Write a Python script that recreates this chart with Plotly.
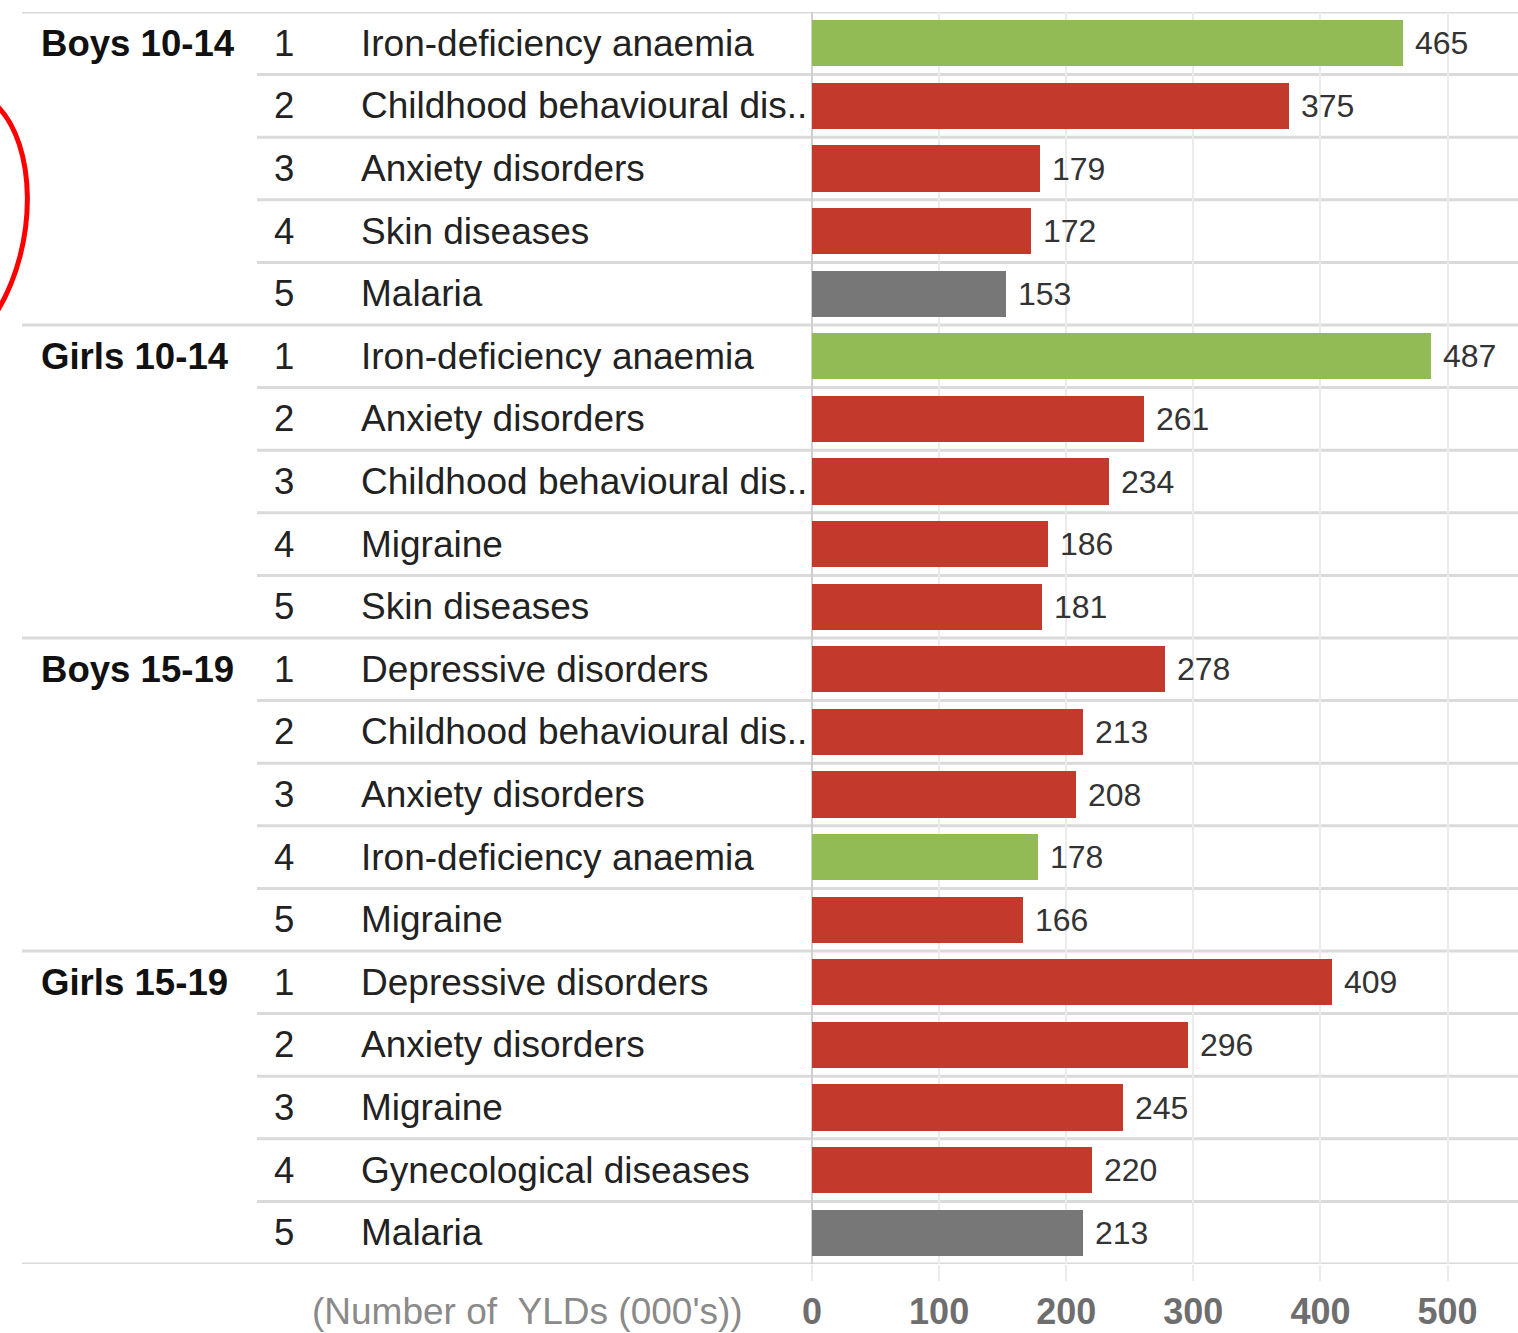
import plotly.graph_objects as go

# ---------------- data ----------------
groups = ["Boys 10-14", "Girls 10-14", "Boys 15-19", "Girls 15-19"]
ranks = [1, 2, 3, 4, 5]
causes_boys_10_14 = ["Iron-deficiency anaemia", "Childhood behavioural dis..", "Anxiety disorders", "Skin diseases", "Malaria"]
values_boys_10_14 = [465, 375, 179, 172, 153]
causes_girls_10_14 = ["Iron-deficiency anaemia", "Anxiety disorders", "Childhood behavioural dis..", "Migraine", "Skin diseases"]
values_girls_10_14 = [487, 261, 234, 186, 181]
causes_boys_15_19 = ["Depressive disorders", "Childhood behavioural dis..", "Anxiety disorders", "Iron-deficiency anaemia", "Migraine"]
values_boys_15_19 = [278, 213, 208, 178, 166]
causes_girls_15_19 = ["Depressive disorders", "Anxiety disorders", "Migraine", "Gynecological diseases", "Malaria"]
values_girls_15_19 = [409, 296, 245, 220, 213]
x_ticks = [0, 100, 200, 300, 400, 500]
axis_label = "(Number of\u00a0\u00a0YLDs (000's))"

cause_group = {  # colour category per cause
    "Iron-deficiency anaemia": "nutritional",
    "Malaria": "communicable",
}
colors = {"nutritional": "#92BB55", "communicable": "#777777", "ncd": "#C3392B"}

group_causes = [causes_boys_10_14, causes_girls_10_14, causes_boys_15_19, causes_girls_15_19]
group_values = [values_boys_10_14, values_girls_10_14, values_boys_15_19, values_girls_15_19]

# ---------------- layout geometry (pixels) ----------------
W, H = 1518, 1333
L, R, T, B = 812, 0, 12.3, 69
PW = W - L - R
PH = H - T - B


def px_x(px):
    return (px - L) / PW


def px_y(py):
    return (H - B - py) / PH


rows_y, rows_x, rows_c, rows_text = [], [], [], []
for g, (cs, vs) in enumerate(zip(group_causes, group_values)):
    for r, (c, v) in enumerate(zip(cs, vs)):
        idx = g * len(ranks) + r
        rows_y.append(idx)
        rows_x.append(v)
        rows_c.append(colors[cause_group.get(c, "ncd")])
        rows_text.append("\u00a0" + str(v))

n_rows = len(rows_y)
FONT = "Liberation Sans, Arial, sans-serif"

fig = go.Figure()
fig.add_trace(go.Bar(
    x=rows_x, y=rows_y, orientation="h",
    marker=dict(color=rows_c, line=dict(width=0)),
    width=0.735,
    text=rows_text, textposition="outside", constraintext="none",
    textfont=dict(family=FONT, size=32, color="#333333"),
    cliponaxis=False, hoverinfo="skip",
))

annotations = []
shapes = []
for g, cs in enumerate(group_causes):
    annotations.append(dict(
        xref="paper", yref="y", x=px_x(39), y=g * len(ranks), text="<b>%s</b>" % groups[g],
        xanchor="left", yanchor="middle", showarrow=False,
        font=dict(family=FONT, size=36.6, color="#111111")))
    for r, c in enumerate(cs):
        idx = g * len(ranks) + r
        annotations.append(dict(
            xref="paper", yref="y", x=px_x(284), y=idx, text=str(ranks[r]),
            xanchor="center", yanchor="middle", showarrow=False,
            font=dict(family=FONT, size=36.6, color="#222222")))
        annotations.append(dict(
            xref="paper", yref="y", x=px_x(359), y=idx, text=c,
            xanchor="left", yanchor="middle", showarrow=False,
            font=dict(family=FONT, size=37, color="#222222")))

# row separator lines
for k in range(n_rows + 1):
    start = 22 if k % len(ranks) == 0 else 257
    shapes.append(dict(
        type="line", xref="paper", yref="y", x0=px_x(start), x1=1, y0=k - 0.5, y1=k - 0.5,
        line=dict(color="#DADADA", width=3), layer="below"))

# axis title
annotations.append(dict(
    xref="paper", yref="paper", x=px_x(527), y=px_y(1311), text=axis_label,
    xanchor="center", yanchor="middle", showarrow=False,
    font=dict(family=FONT, size=37, color="#8A8A8A")))

# red hand-drawn arc at the left edge
def P(x, y):
    return "%f,%f" % (px_x(x), px_y(y))

arc = "M %s C %s %s %s" % (P(-3, 106), P(36, 145), P(39, 242), P(-3, 312))
shapes.append(dict(type="path", xref="paper", yref="paper", path=arc,
                   line=dict(color="#FF0000", width=5)))

fig.update_layout(
    width=W, height=H,
    margin=dict(l=L, r=R, t=T, b=B, pad=0),
    plot_bgcolor="white", paper_bgcolor="white",
    showlegend=False, bargap=0,
    annotations=annotations, shapes=shapes,
    xaxis=dict(
        range=[0, 555.4], tickvals=x_ticks, showgrid=True, gridcolor="#EBEBEB", gridwidth=2,
        zeroline=True, zerolinecolor="#D0D0D0", zerolinewidth=2,
        ticks="outside", ticklen=16, tickcolor="#EBEBEB", tickwidth=2,
        tickfont=dict(family=FONT, size=36, color="#6E6E6E", weight="bold"),
        showline=False, fixedrange=True,
    ),
    yaxis=dict(range=[n_rows - 0.5, -0.5], visible=False, fixedrange=True),
)

fig.write_html("out.html", post_script="document.body.style.margin='0';",
               config={"displayModeBar": False})
